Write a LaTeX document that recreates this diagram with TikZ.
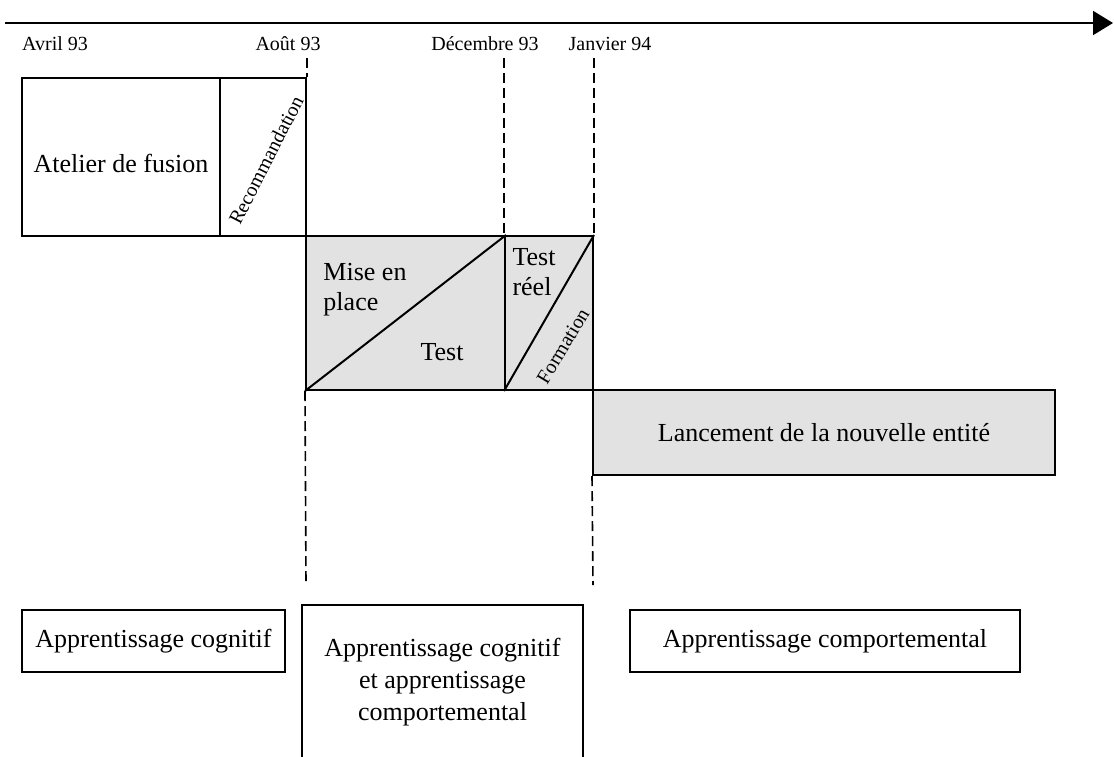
\documentclass[tikz,border=0pt]{standalone}
\usepackage{fontspec}
\setmainfont{Liberation Serif}
\usepackage{tikz}
\usetikzlibrary{arrows.meta, positioning, calc}
\definecolor{phasecolor}{RGB}{226, 226, 226}

\begin{document}
\begin{tikzpicture}[
    x=0.5pt, y=-0.5pt,
    phase/.style={draw, line width=1pt, inner sep=0pt, fill=#1, font=\fontsize{13}{15}\selectfont},
    learnbox/.style={draw, line width=0.9pt, inner sep=0pt, align=center, font=\fontsize{13}{16}\selectfont},
    datelbl/.style={font=\fontsize{10}{12}\selectfont},
    slanted/.style={font=\fontsize{10}{12}\selectfont, rotate=#1, inner sep=1pt},
    milestone/.style={line width=0.8pt, dash pattern=on 5pt off 2.5pt}
]
    \useasboundingbox (0,0) rectangle (1114,756);
    \clip (0,0) rectangle (1114,756);

    % Time axis
    \coordinate (t0) at (5,23);
    \coordinate (t1) at (1113,23);
    \draw[-{Triangle[length=10pt, width=12pt]}, line width=1pt] (t0) -- (t1);

    \node[datelbl] (avril) at (55,44) {Avril 93};
    \node[datelbl] (aout) at (288,44) {Août 93};
    \node[datelbl] (decembre) at (485,44) {Décembre 93};
    \node[datelbl] (janvier) at (610,44) {Janvier 94};

    % Phase 1
    \node[phase=white, minimum width=99pt, minimum height=79pt] (fusion) at (121,157) {};
    \node[font=\fontsize{13}{15}\selectfont] (fusiontxt) at (121,163) {Atelier de fusion};
    \node[phase=white, minimum width=43pt, minimum height=79pt] (reco) at (263,157) {};
    \node[slanted=63] (recotxt) at (266,160) {Recommandation};

    % Phase 2
    \node[phase=phasecolor, minimum width=99.5pt, minimum height=77pt] (miseplace) at (405.5,313) {};
    \draw[line width=1pt] (miseplace.south west) -- (miseplace.north east);
    \node[font=\fontsize{13}{15}\selectfont, align=left] (misetxt) at (365,290) {Mise en\\place};
    \node[font=\fontsize{13}{15}\selectfont] (testtxt) at (442,352) {Test};

    \node[phase=phasecolor, minimum width=44pt, minimum height=77pt] (testreel) at (549,313) {};
    \draw[line width=1pt] (testreel.south west) -- (testreel.north east);
    \node[font=\fontsize{13}{15}\selectfont, align=left] (reeltxt) at (534,272) {Test\\réel};
    \node[slanted=59] (formtxt) at (563,346) {Formation};

    % Phase 3
    \node[phase=phasecolor, minimum width=231pt, minimum height=42.5pt] (lancement) at (824,432.5) {Lancement de la nouvelle entité};

    % Milestones
    \coordinate (aoutend) at (306,585);
    \coordinate (janvend) at (593,585);
    \draw[milestone] (aout.south -| reco.east) -- (reco.north east);
    \draw[milestone] (miseplace.south west) -- (aoutend);
    \draw[milestone] (decembre.south -| testreel.west) -- (testreel.north west);
    \draw[milestone] (janvier.south -| testreel.east) -- (testreel.north east);
    \draw[milestone] (lancement.south west) -- (janvend);

    % Learning types
    \node[learnbox, minimum width=131.5pt, minimum height=31pt] (cognitif) at (153.5,641) {Apprentissage cognitif};
    \node[learnbox, minimum width=140.5pt, minimum height=77.5pt] (mixte) at (442.5,682.5) {Apprentissage cognitif\\et apprentissage\\comportemental};
    \node[learnbox, minimum width=195pt, minimum height=31pt] (comportemental) at (825,641) {Apprentissage comportemental};

\end{tikzpicture}
\end{document}
